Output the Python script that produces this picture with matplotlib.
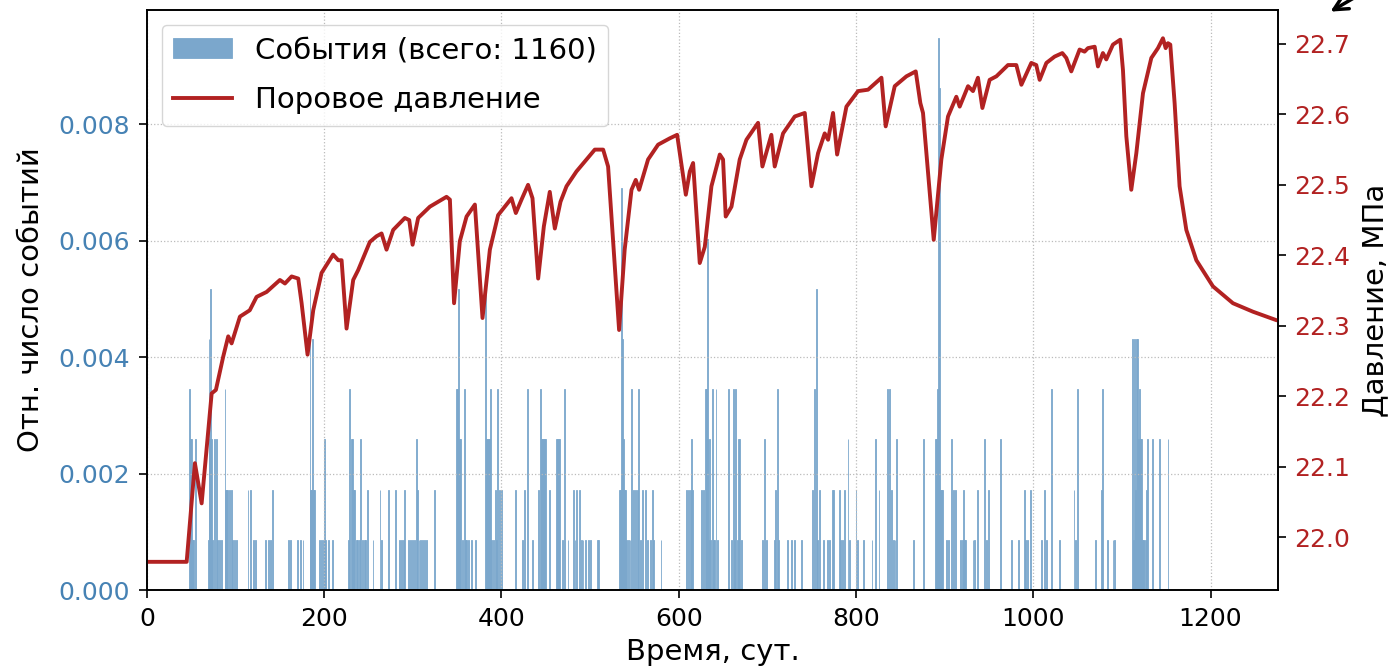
import numpy as np
import matplotlib
matplotlib.use("Agg")
import matplotlib.pyplot as plt

# --------------------- Data ------------------------

total_events = 1160

# days with events and number of events on that day
event_day = [
    48, 49, 50, 51, 53, 55,
    69, 70, 71, 72, 73, 74, 76, 78, 80, 82, 84, 88, 89, 90, 91, 93, 95, 97, 99, 101,
    114, 117, 120, 122, 134, 137, 139, 142, 160, 162, 170, 173, 176,
    184, 185, 186, 187, 188, 189, 195, 197, 199, 200, 201, 205, 209,
    227, 229, 231, 232, 233, 234, 236, 238, 240, 241, 243, 245, 247, 249, 255, 263, 265,
    273, 280, 285, 287, 289, 291, 295, 297, 300, 302, 304, 305, 307, 309, 311, 313, 315, 324,
    349, 350, 352, 353, 354, 356, 358, 359, 361, 363, 366, 371,
    382, 383, 384, 385, 386, 387, 388, 389, 391, 393, 394, 396, 398, 400, 416,
    424, 426, 429, 435, 442, 444, 445, 446, 447, 448, 449, 450, 454, 462, 463, 464, 465,
    469, 471, 475, 481, 483, 485, 488, 490, 492, 495, 498, 500, 508, 509,
    533, 534, 535, 536, 537, 538, 539, 540, 541, 543, 545, 547, 549, 551, 553, 555, 557,
    559, 562, 565, 568, 570, 572, 580,
    609, 611, 613, 614, 616, 626, 628, 630, 631, 632, 633, 634, 635, 636, 638, 639, 640,
    642, 644, 656, 660, 662, 663, 664, 666, 667, 669, 671,
    695, 697, 699, 708, 709, 711, 713, 723, 727, 731, 739,
    751, 753, 755, 757, 759, 763, 768, 770, 773, 775, 781, 783, 785, 787, 791, 793, 800,
    802, 808, 818, 822, 826, 836, 838, 840, 842, 844, 846,
    865, 876, 890, 891, 892, 893, 894, 895, 896, 898, 902, 904, 908, 910, 912, 918, 920,
    921, 922, 924, 932, 934, 937, 945, 947, 949, 963, 975, 983, 990, 991, 994, 997,
    1009, 1013, 1015, 1021, 1030, 1046, 1048, 1050, 1070,
    1077, 1078, 1084, 1090, 1092, 1112, 1113, 1114, 1115, 1116, 1117, 1118, 1119, 1120,
    1121, 1122, 1123, 1124, 1125, 1127, 1128, 1129, 1135, 1142, 1152,
]
event_count = [
    4, 3, 3, 1, 1, 3,
    1, 5, 3, 6, 3, 1, 3, 3, 1, 1, 1, 4, 2, 2, 2, 2, 2, 1, 1, 1,
    2, 2, 1, 1, 1, 1, 1, 2, 1, 1, 1, 1, 1,
    6, 2, 2, 5, 2, 2, 1, 1, 1, 3, 1, 1, 1,
    1, 4, 3, 3, 2, 2, 1, 1, 1, 3, 1, 1, 1, 2, 1, 2, 1,
    2, 2, 1, 1, 1, 2, 1, 1, 1, 1, 3, 2, 1, 1, 1, 1, 1, 2,
    4, 4, 6, 3, 3, 1, 4, 1, 1, 1, 1, 1,
    6, 3, 3, 3, 3, 3, 4, 1, 1, 2, 1, 4, 2, 2, 2,
    1, 2, 4, 1, 2, 4, 3, 3, 3, 3, 3, 3, 2, 3, 3, 3, 3,
    1, 4, 1, 2, 1, 2, 2, 1, 1, 1, 1, 1, 1, 1,
    2, 2, 8, 5, 5, 3, 2, 2, 1, 1, 1, 4, 2, 2, 2, 4, 1,
    2, 2, 1, 1, 2, 1, 1,
    2, 2, 2, 3, 2, 2, 2, 4, 4, 7, 3, 1, 3, 1, 4, 1, 1,
    4, 1, 4, 1, 4, 1, 4, 1, 3, 3, 1,
    1, 3, 1, 1, 2, 4, 1, 1, 1, 1, 1,
    2, 4, 6, 1, 2, 1, 1, 1, 2, 2, 2, 1, 1, 2, 3, 1, 2,
    1, 1, 1, 3, 2, 4, 4, 2, 1, 1, 3,
    1, 3, 3, 3, 4, 11, 10, 2, 2, 2, 1, 1, 3, 2, 2, 1, 1,
    2, 1, 1, 1, 1, 2, 3, 1, 2, 3, 1, 1, 2, 1, 1, 2,
    1, 2, 1, 4, 1, 2, 1, 4, 1,
    2, 4, 1, 1, 1, 5, 1, 5, 2, 5, 2, 5, 3, 4,
    3, 3, 1, 1, 1, 1, 2, 3, 3, 3, 3,
]

# pore pressure, MPa
pressure_day = [
    0, 44.8, 54.1, 61.7, 73, 77.8, 86, 91.7, 95.5, 104.9,
    116, 123.7, 135, 150, 155.7, 163.2, 170.7, 174.5, 181.2, 187.6,
    197, 210, 215.8, 219.6, 225.2, 232.7, 238.3, 251.5, 259, 264.7,
    270.3, 277.8, 291, 295.9, 299.7, 306, 319.2, 338, 341.8, 346.5,
    353, 360.6, 370, 378.6, 386.9, 396.2, 411.3, 416.2, 422.6, 430,
    435, 441.4, 447.8, 454.5, 460.2, 466.6, 473.4, 484.6, 495.9, 505.3,
    514.7, 520.3, 532.7, 539, 546.7, 551.5, 555.3, 565.4, 576.7, 589.9,
    598.2, 608, 612.5, 616.2, 623.7, 629.4, 636.9, 646.3, 650, 653,
    659.5, 668.8, 676.4, 689.5, 694.4, 704.5, 708.3, 717.7, 730.9, 742.2,
    749.7, 757.2, 764.7, 768.5, 774.1, 778.7, 789.2, 802.3, 813.6, 828.7,
    833.5, 843.7, 856.9, 867.4, 872.6, 875.6, 887.7, 896.3, 903.8, 913.2,
    917, 926.4, 932, 937.6, 942.6, 950.8, 958.4, 971.5, 980.9, 986.6,
    997.8, 1003.4, 1007.2, 1014.8, 1024.1, 1032.8, 1037.3, 1042.9, 1052.3, 1057.9,
    1061.7, 1069.3, 1073, 1078.6, 1082.4, 1089.9, 1098.2, 1101.2, 1105, 1110.6,
    1116.3, 1123.8, 1133.2, 1140.7, 1146.3, 1149.4, 1152, 1154.6, 1159.5, 1165.1,
    1172.7, 1184, 1202.7, 1225.3, 1247.8, 1274.2, 1290,
]
pressure_mpa = [
    21.965, 21.965, 22.105, 22.048, 22.204, 22.209, 22.256, 22.285, 22.275, 22.313,
    22.322, 22.341, 22.348, 22.365, 22.360, 22.370, 22.367, 22.332, 22.259, 22.322,
    22.375, 22.401, 22.393, 22.393, 22.296, 22.365, 22.379, 22.419, 22.427, 22.431,
    22.408, 22.436, 22.453, 22.450, 22.415, 22.453, 22.469, 22.483, 22.479, 22.332,
    22.420, 22.455, 22.472, 22.311, 22.408, 22.457, 22.481, 22.460, 22.479, 22.500,
    22.481, 22.367, 22.441, 22.490, 22.438, 22.476, 22.498, 22.519, 22.536, 22.550,
    22.550, 22.526, 22.294, 22.408, 22.493, 22.507, 22.493, 22.536, 22.557, 22.566,
    22.571, 22.486, 22.519, 22.531, 22.389, 22.412, 22.498, 22.543, 22.536, 22.455,
    22.469, 22.536, 22.564, 22.588, 22.526, 22.571, 22.526, 22.573, 22.597, 22.602,
    22.498, 22.545, 22.573, 22.564, 22.602, 22.543, 22.611, 22.633, 22.635, 22.652,
    22.583, 22.640, 22.654, 22.661, 22.616, 22.602, 22.422, 22.536, 22.597, 22.625,
    22.611, 22.640, 22.633, 22.652, 22.609, 22.649, 22.654, 22.670, 22.670, 22.642,
    22.673, 22.670, 22.649, 22.673, 22.682, 22.687, 22.680, 22.661, 22.692, 22.689,
    22.694, 22.696, 22.668, 22.687, 22.678, 22.699, 22.706, 22.663, 22.569, 22.493,
    22.545, 22.630, 22.680, 22.694, 22.708, 22.694, 22.701, 22.699, 22.616, 22.498,
    22.436, 22.393, 22.356, 22.332, 22.320, 22.308, 22.304,
]

rel_freq = np.array(event_count) / total_events

# --------------------- Plot ------------------------

fig, ax1 = plt.subplots(figsize=(13.89, 6.72), dpi=100)
fig.subplots_adjust(left=0.1058, right=0.920, bottom=0.122, top=0.985)

bars = ax1.bar(event_day, rel_freq, width=1.0, color="#7ba7cc",
               edgecolor="#7ba7cc", linewidth=0.6,
               label=f"События (всего: {total_events})")
ax1.set_xlim(0, 1276)
ax1.set_ylim(0, 0.00996)
ax1.set_yticks([0, 0.002, 0.004, 0.006, 0.008])
ax1.yaxis.set_major_formatter(matplotlib.ticker.FormatStrFormatter("%.3f"))
ax1.set_xlabel("Время, сут.", fontsize=21, labelpad=5)
ax1.set_ylabel("Отн. число событий", fontsize=21, labelpad=10)
ax1.tick_params(axis="y", labelcolor="steelblue", labelsize=18)
ax1.tick_params(axis="x", labelsize=18)
ax1.tick_params(length=6, width=1.2, pad=6)
ax1.grid(True, linestyle=":", color="#bbbbbb", linewidth=0.9)
for s in ax1.spines.values():
    s.set_linewidth(1.2)

ax2 = ax1.twinx()
line, = ax2.plot(pressure_day, pressure_mpa, color="firebrick", lw=2.8,
                 label="Поровое давление")
ax2.set_ylim(21.925, 22.748)
ax2.set_yticks([22.0, 22.1, 22.2, 22.3, 22.4, 22.5, 22.6, 22.7])
ax2.set_ylabel("Давление, МПа", fontsize=21, labelpad=8)
ax2.tick_params(axis="y", labelcolor="firebrick", labelsize=18,
                length=6, width=1.2, pad=6)
for s in ax2.spines.values():
    s.set_linewidth(1.2)

ax1.legend([bars, line], [bars.get_label(), line.get_label()],
           loc="upper left", fontsize=21, labelspacing=0.75)

# arrow cut by the top edge
ax1.annotate("", xy=(1328 / 1389, 1 - 13 / 672), xycoords="figure fraction",
             xytext=(1385 / 1389, 1.03), textcoords="figure fraction",
             arrowprops=dict(arrowstyle="->", color="black", lw=2.5,
                             mutation_scale=25),
             annotation_clip=False)

fig.savefig("out.png", dpi=100)
